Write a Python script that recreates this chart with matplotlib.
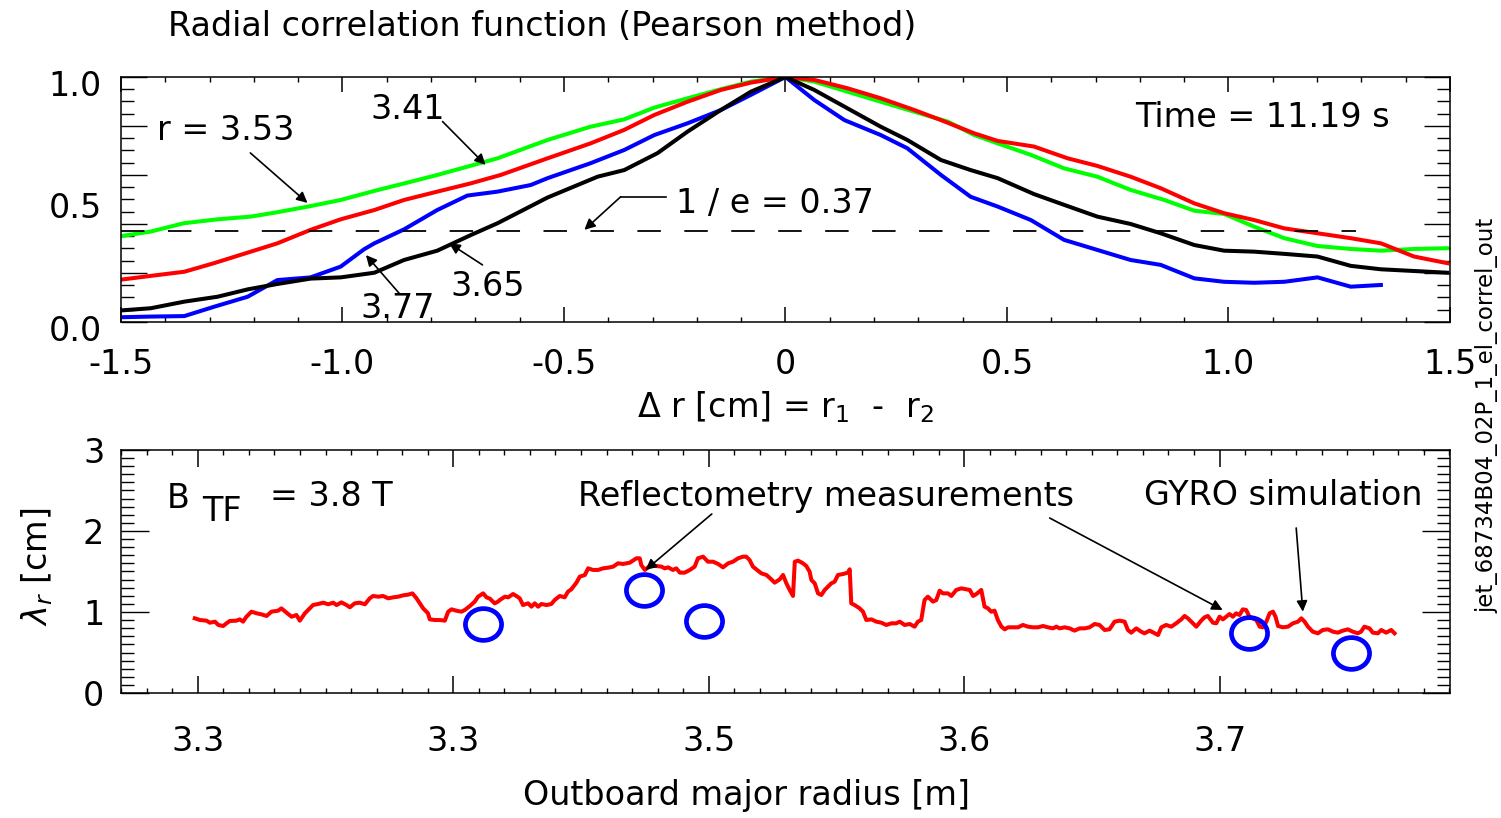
import matplotlib
matplotlib.use("Agg")
import matplotlib.pyplot as plt
import numpy as np
from matplotlib.ticker import MultipleLocator
from matplotlib.path import Path
from matplotlib.transforms import Affine2D, ScaledTranslation

plt.rcParams['font.family'] = ['DejaVu Sans']
plt.rcParams['font.size'] = 24
plt.rcParams['axes.linewidth'] = 1.1

# ---- top panel: radial correlation curves ----
dr_green = [-1.508, -1.433, -1.358, -1.282, -1.207, -1.147, -1.072, -1.004, -0.928, -0.853,
            -0.786, -0.710, -0.650, -0.537, -0.440, -0.364, -0.296, -0.221, -0.146, -0.078,
            0.0, 0.065, 0.140, 0.215, 0.291, 0.366, 0.426, 0.479, 0.554, 0.629,
            0.704, 0.779, 0.855, 0.923, 0.990, 1.058, 1.126, 1.201, 1.276, 1.344, 1.419, 1.494]
c_green = [0.348, 0.369, 0.403, 0.419, 0.430, 0.448, 0.473, 0.498, 0.535, 0.569,
           0.600, 0.638, 0.668, 0.743, 0.797, 0.827, 0.875, 0.913, 0.950, 0.981,
           1.0, 0.981, 0.940, 0.899, 0.858, 0.818, 0.763, 0.729, 0.682, 0.627,
           0.593, 0.539, 0.498, 0.454, 0.441, 0.389, 0.342, 0.310, 0.298, 0.291, 0.298, 0.301]

dr_red = [-1.508, -1.433, -1.357, -1.290, -1.214, -1.147, -1.072, -1.004, -0.928, -0.861,
          -0.786, -0.710, -0.643, -0.537, -0.440, -0.364, -0.296, -0.221, -0.146, -0.078,
          0.0, 0.065, 0.140, 0.215, 0.291, 0.351, 0.426, 0.479, 0.561, 0.637,
          0.704, 0.779, 0.847, 0.923, 0.990, 1.058, 1.126, 1.201, 1.276, 1.344, 1.419, 1.494]
c_red = [0.171, 0.188, 0.205, 0.240, 0.283, 0.321, 0.376, 0.419, 0.457, 0.498,
         0.532, 0.566, 0.600, 0.668, 0.729, 0.784, 0.845, 0.899, 0.947, 0.977,
         1.0, 0.988, 0.954, 0.913, 0.865, 0.824, 0.770, 0.739, 0.716, 0.668,
         0.637, 0.593, 0.546, 0.484, 0.444, 0.416, 0.382, 0.362, 0.342, 0.321, 0.267, 0.240]

dr_blue = [-1.508, -1.433, -1.357, -1.290, -1.214, -1.147, -1.072, -1.004, -0.951, -0.928,
           -0.861, -0.786, -0.718, -0.650, -0.575, -0.537, -0.440, -0.364, -0.296, -0.221,
           -0.146, -0.078, 0.0, 0.065, 0.133, 0.215, 0.275, 0.351, 0.418, 0.479,
           0.554, 0.629, 0.704, 0.779, 0.847, 0.923, 0.990, 1.058, 1.126, 1.201, 1.276, 1.344]
c_blue = [0.019, 0.022, 0.024, 0.062, 0.103, 0.171, 0.182, 0.226, 0.297, 0.321,
          0.378, 0.457, 0.516, 0.532, 0.559, 0.587, 0.648, 0.702, 0.763, 0.811,
          0.865, 0.927, 1.0, 0.906, 0.824, 0.763, 0.709, 0.600, 0.511, 0.471,
          0.416, 0.335, 0.294, 0.253, 0.233, 0.178, 0.164, 0.160, 0.164, 0.182, 0.144, 0.151]

dr_black = [-1.508, -1.433, -1.357, -1.282, -1.214, -1.147, -1.072, -1.004, -0.928, -0.861,
            -0.786, -0.710, -0.650, -0.537, -0.424, -0.364, -0.289, -0.221, -0.146, -0.078,
            0.0, 0.065, 0.140, 0.215, 0.275, 0.351, 0.418, 0.479, 0.561, 0.629,
            0.704, 0.779, 0.847, 0.923, 0.990, 1.058, 1.126, 1.201, 1.276, 1.344, 1.419, 1.494]
c_black = [0.046, 0.056, 0.083, 0.103, 0.133, 0.155, 0.177, 0.182, 0.201, 0.253,
           0.291, 0.355, 0.403, 0.508, 0.593, 0.620, 0.689, 0.777, 0.865, 0.940,
           1.0, 0.947, 0.872, 0.797, 0.743, 0.661, 0.620, 0.587, 0.522, 0.478,
           0.430, 0.400, 0.362, 0.314, 0.291, 0.287, 0.278, 0.267, 0.229, 0.215, 0.208, 0.201]

one_over_e = 0.37
e_line_x = [-1.5, 1.287]

dr_ticks = [-1.5, -1.0, -0.5, 0.0, 0.5, 1.0, 1.5]
dr_ticklabels = ['-1.5', '-1.0', '-0.5', '0', '0.5', '1.0', '1.5']
c_ticks = [0.0, 0.5, 1.0]
c_ticklabels = ['0.0', '0.5', '1.0']

# ---- bottom panel: correlation length vs radius ----
R_a = [3.2988, 3.3008, 3.3034, 3.3047, 3.3067, 3.3080, 3.3099, 3.3112, 3.3125, 3.3151,
       3.3164, 3.3177, 3.3190, 3.3210, 3.3230, 3.3249, 3.3269, 3.3288, 3.3314, 3.3327,
       3.3347, 3.3367, 3.3386, 3.3399, 3.3419, 3.3438, 3.3451, 3.3471, 3.3491, 3.3510,
       3.3530, 3.3543, 3.3562, 3.3582, 3.3595, 3.3614, 3.3634, 3.3654, 3.3673, 3.3686,
       3.3706, 3.3725, 3.3745, 3.3765, 3.3784, 3.3804, 3.3823, 3.3840, 3.3856, 3.3869,
       3.3882, 3.3901, 3.3908, 3.3928, 3.3947, 3.3967, 3.3980, 3.3993, 3.4012, 3.4032,
       3.4045, 3.4065, 3.4084, 3.4097, 3.4117, 3.4130, 3.4143, 3.4162, 3.4175]
L_a = [0.922, 0.901, 0.893, 0.868, 0.881, 0.840, 0.827, 0.860, 0.889, 0.893,
       0.909, 0.881, 0.942, 1.004, 0.984, 0.971, 0.951, 1.004, 1.016, 1.045,
       0.992, 0.942, 0.963, 0.893, 0.984, 1.045, 1.086, 1.099, 1.115, 1.095,
       1.115, 1.086, 1.119, 1.086, 1.058, 1.107, 1.115, 1.095, 1.169, 1.198,
       1.189, 1.198, 1.169, 1.181, 1.189, 1.206, 1.214, 1.230, 1.169, 1.107,
       1.045, 0.984, 0.909, 0.901, 0.901, 0.893, 1.004, 1.033, 1.016, 1.004,
       1.025, 1.074, 1.128, 1.189, 1.230, 1.181, 1.165, 1.107, 1.128]

R_b = [3.4182, 3.4202, 3.4215, 3.4234, 3.4247, 3.4260, 3.4273, 3.4293, 3.4306, 3.4319,
       3.4332, 3.4345, 3.4365, 3.4384, 3.4397, 3.4417, 3.4436, 3.4449, 3.4462, 3.4482,
       3.4495, 3.4515, 3.4528, 3.4547, 3.4567, 3.4586, 3.4606, 3.4626, 3.4645, 3.4665,
       3.4691, 3.4717, 3.4730, 3.4736, 3.4750, 3.4769, 3.4795, 3.4815, 3.4828, 3.4841,
       3.4860, 3.4873, 3.4887, 3.4906, 3.4926, 3.4945, 3.4958, 3.4978, 3.4997, 3.5017,
       3.5037, 3.5056, 3.5076, 3.5095, 3.5115, 3.5134, 3.5147, 3.5160, 3.5173, 3.5193,
       3.5206, 3.5226, 3.5245, 3.5258, 3.5278, 3.5291, 3.5304, 3.5317, 3.5330]
L_b = [1.148, 1.189, 1.181, 1.222, 1.198, 1.169, 1.086, 1.107, 1.066, 1.107,
       1.066, 1.099, 1.086, 1.099, 1.148, 1.198, 1.181, 1.251, 1.280, 1.362,
       1.436, 1.457, 1.539, 1.519, 1.519, 1.539, 1.547, 1.560, 1.601, 1.593,
       1.609, 1.663, 1.663, 1.580, 1.519, 1.568, 1.568, 1.560, 1.539, 1.551,
       1.519, 1.539, 1.486, 1.486, 1.519, 1.560, 1.663, 1.683, 1.621, 1.621,
       1.593, 1.551, 1.601, 1.621, 1.663, 1.683, 1.683, 1.642, 1.560, 1.510,
       1.477, 1.457, 1.403, 1.362, 1.403, 1.457, 1.354, 1.272, 1.198]

R_c = [3.5337, 3.5350, 3.5369, 3.5382, 3.5395, 3.5402, 3.5415, 3.5428, 3.5441, 3.5454,
       3.5467, 3.5480, 3.5493, 3.5506, 3.5526, 3.5545, 3.5552, 3.5558, 3.5571, 3.5591,
       3.5604, 3.5617, 3.5637, 3.5656, 3.5676, 3.5695, 3.5715, 3.5734, 3.5748, 3.5767,
       3.5787, 3.5806, 3.5819, 3.5832, 3.5845, 3.5858, 3.5878, 3.5891, 3.5904, 3.5917,
       3.5937, 3.5950, 3.5969, 3.5989, 3.6008, 3.6022, 3.6035, 3.6048, 3.6067, 3.6080,
       3.6093, 3.6106, 3.6119, 3.6132, 3.6146, 3.6159, 3.6172, 3.6191, 3.6211, 3.6230,
       3.6250, 3.6269, 3.6289, 3.6309, 3.6328, 3.6348, 3.6361, 3.6374, 3.6393, 3.6413,
       3.6432, 3.6452, 3.6472, 3.6491, 3.6511]
L_c = [1.621, 1.634, 1.601, 1.568, 1.498, 1.395, 1.354, 1.230, 1.210, 1.272,
       1.313, 1.354, 1.374, 1.457, 1.469, 1.486, 1.527, 1.107, 1.086, 1.045,
       1.004, 0.901, 0.909, 0.881, 0.868, 0.840, 0.860, 0.860, 0.881, 0.840,
       0.852, 0.819, 0.881, 0.901, 1.148, 1.189, 1.128, 1.148, 1.263, 1.230,
       1.230, 1.198, 1.272, 1.292, 1.280, 1.272, 1.198, 1.222, 1.272, 1.066,
       1.045, 1.004, 1.016, 0.901, 0.819, 0.786, 0.811, 0.811, 0.811, 0.840,
       0.819, 0.811, 0.811, 0.827, 0.811, 0.798, 0.819, 0.798, 0.811, 0.798,
       0.770, 0.798, 0.798, 0.811, 0.852]

R_d = [3.6530, 3.6550, 3.6569, 3.6589, 3.6609, 3.6628, 3.6641, 3.6654, 3.6674, 3.6693,
       3.6706, 3.6726, 3.6746, 3.6759, 3.6772, 3.6791, 3.6811, 3.6830, 3.6850, 3.6863,
       3.6876, 3.6889, 3.6909, 3.6928, 3.6941, 3.6954, 3.6974, 3.6987, 3.7000, 3.7013,
       3.7026, 3.7039, 3.7052, 3.7065, 3.7078, 3.7091, 3.7104, 3.7117, 3.7144, 3.7157,
       3.7170, 3.7183, 3.7196, 3.7209, 3.7219, 3.7229, 3.7248, 3.7268, 3.7287, 3.7307,
       3.7320, 3.7333, 3.7346, 3.7365, 3.7385, 3.7404, 3.7424, 3.7444, 3.7463, 3.7483,
       3.7502, 3.7522, 3.7541, 3.7554, 3.7567, 3.7587, 3.7600, 3.7620, 3.7633, 3.7652,
       3.7672, 3.7685]
L_d = [0.840, 0.778, 0.786, 0.881, 0.893, 0.881, 0.778, 0.745, 0.798, 0.757,
       0.737, 0.770, 0.737, 0.716, 0.811, 0.840, 0.819, 0.860, 0.909, 0.951,
       0.922, 0.881, 0.819, 0.893, 0.934, 0.951, 0.868, 0.860, 0.942, 0.909,
       0.942, 0.975, 0.942, 0.984, 0.963, 1.033, 1.025, 0.942, 0.901, 0.819,
       0.811, 0.881, 0.984, 1.004, 0.942, 0.827, 0.811, 0.819, 0.860, 0.881,
       0.922, 0.881, 0.819, 0.757, 0.737, 0.778, 0.786, 0.757, 0.745, 0.770,
       0.786, 0.757, 0.737, 0.757, 0.819, 0.798, 0.745, 0.737, 0.778, 0.745,
       0.778, 0.737]

R_meas = [3.4115, 3.4746, 3.4980, 3.7117, 3.7513]
L_meas = [0.852, 1.272, 0.889, 0.741, 0.494]

R_ticks = [3.3, 3.4, 3.5, 3.6, 3.7]
R_ticklabels = ['3.3', '3.3', '3.5', '3.6', '3.7']
L_ticks = [0, 1, 2, 3]
L_ticklabels = ['0', '1', '2', '3']

fig = plt.figure(figsize=(15.01, 8.18), dpi=100)
ax1 = fig.add_axes([0.0806, 0.6064, 0.8854, 0.2995])
ax2 = fig.add_axes([0.0806, 0.1528, 0.8854, 0.2971])

lw = 2.9
ax1.plot(dr_green, c_green, color='#00ff00', lw=lw)
ax1.plot(dr_red, c_red, color='#ff0000', lw=lw)
ax1.plot(dr_blue, c_blue, color='#0000ff', lw=lw)
ax1.plot(dr_black, c_black, color='black', lw=lw)
ax1.plot(e_line_x, [one_over_e, one_over_e], color='black', lw=1.3, dashes=(13, 13))

ax1.set_xlim(-1.5, 1.5)
ax1.set_ylim(0, 1.0)
ax1.set_xticks(dr_ticks, dr_ticklabels)
ax1.xaxis.set_minor_locator(MultipleLocator(0.1))
ax1.tick_params(axis='x', which='both', direction='in', top=True, bottom=True)
ax1.tick_params(axis='x', which='major', length=11, width=1.1, pad=19)
ax1.tick_params(axis='x', which='minor', length=3.6, width=1.0)
ax1.yaxis.set_major_locator(MultipleLocator(0.2))
ax1.yaxis.set_minor_locator(MultipleLocator(0.05))
ax1.tick_params(axis='y', which='both', direction='in', left=True, right=True, labelleft=False)
ax1.tick_params(axis='y', which='major', length=19, width=1.0)
ax1.tick_params(axis='y', which='minor', length=9.4, width=1.0)
sec1 = ax1.secondary_yaxis('left')
sec1.set_yticks(c_ticks, c_ticklabels)
sec1.tick_params(length=0, pad=14)
sec1.spines['left'].set_visible(False)
for lab in sec1.get_yticklabels():
    lab.set_transform(lab.get_transform() + ScaledTranslation(0, -6 / 100, fig.dpi_scale_trans))
ax1.set_xlabel(r'$\Delta$ r [cm] = r$_1$  -  r$_2$', labelpad=6)

arrow = dict(arrowstyle='-|>', color='black', lw=1.2, mutation_scale=16, shrinkA=0, shrinkB=0)
ax1.annotate('', xy=(-1.079, 0.486), xytext=(-1.208, 0.690), arrowprops=arrow)
ax1.text(-1.264, 0.780, 'r = 3.53', ha='center', va='center')
ax1.annotate('', xy=(-0.677, 0.641), xytext=(-0.774, 0.818), arrowprops=arrow)
ax1.text(-0.853, 0.869, '3.41', ha='center', va='center')
ax1.annotate('', xy=(-0.947, 0.273), xytext=(-0.872, 0.117), arrowprops=arrow)
ax1.text(-0.876, 0.057, '3.77', ha='center', va='center')
ax1.annotate('', xy=(-0.759, 0.321), xytext=(-0.684, 0.233), arrowprops=arrow)
ax1.text(-0.673, 0.143, '3.65', ha='center', va='center')
ax1.plot([-0.270, -0.372], [0.511, 0.511], color='black', lw=1.2)
ax1.annotate('', xy=(-0.454, 0.376), xytext=(-0.372, 0.511), arrowprops=arrow)
ax1.text(-0.023, 0.482, '1 / e = 0.37', ha='center', va='center')
ax1.text(1.077, 0.833, 'Time = 11.19 s', ha='center', va='center')

# bottom panel
ax2.plot(R_a + R_b + R_c + R_d, L_a + L_b + L_c + L_d, color='#ff0000', lw=2.9)
ellipse = Path.unit_circle().transformed(Affine2D().scale(1.0, 0.88))
ax2.plot(R_meas, L_meas, linestyle='none', marker=ellipse, markersize=26,
         markerfacecolor='none', markeredgecolor='#0000ff', markeredgewidth=3.4)

ax2.set_xlim(3.2699, 3.7902)
ax2.set_ylim(0, 3)
ax2.set_xticks(R_ticks, R_ticklabels)
ax2.xaxis.set_minor_locator(MultipleLocator(0.01))
ax2.tick_params(axis='x', which='both', direction='in', top=True, bottom=True)
ax2.tick_params(axis='x', which='major', length=12, width=1.1, pad=23)
ax2.tick_params(axis='x', which='minor', length=3.6, width=1.0)
ax2.set_yticks(L_ticks, L_ticklabels)
ax2.yaxis.set_minor_locator(MultipleLocator(0.1))
ax2.tick_params(axis='y', which='both', direction='in', left=True, right=True)
ax2.tick_params(axis='y', which='major', length=20, width=1.0, pad=12)
ax2.tick_params(axis='y', which='minor', length=9.4, width=1.0)
ax2.set_xlabel('Outboard major radius [m]', labelpad=15)
ax2.xaxis.label.set_x(0.471)
ax2.set_ylabel(r'$\lambda_r$ [cm]', labelpad=20)
ax2.yaxis.label.set_y(0.52)

ax2.text(3.2879, 2.407, 'B', ha='left', va='center')
ax2.text(3.3016, 2.235, 'TF', ha='left', va='center')
ax2.text(3.3282, 2.42, '= 3.8 T', ha='left', va='center')
ax2.text(3.5458, 2.42, 'Reflectometry measurements', ha='center', va='center')
ax2.text(3.7251, 2.432, 'GYRO simulation', ha='center', va='center')
arrow2 = dict(arrowstyle='-|>', color='black', lw=1.2, mutation_scale=16, shrinkA=0, shrinkB=0)
ax2.annotate('', xy=(3.4753, 1.519), xytext=(3.5012, 2.21), arrowprops=arrow2)
ax2.annotate('', xy=(3.7012, 1.025), xytext=(3.6335, 2.160), arrowprops=arrow2)
ax2.annotate('', xy=(3.7326, 1.004), xytext=(3.7300, 2.037), arrowprops=arrow2)

fig.text(0.1119, 0.967, 'Radial correlation function (Pearson method)', ha='left', va='center')
fig.text(0.9907, 0.4927, 'jet_68734B04_02P_1_el_correl_out', rotation=90,
         ha='center', va='center', fontsize=16.5)

fig.savefig('out.png', dpi=100)
